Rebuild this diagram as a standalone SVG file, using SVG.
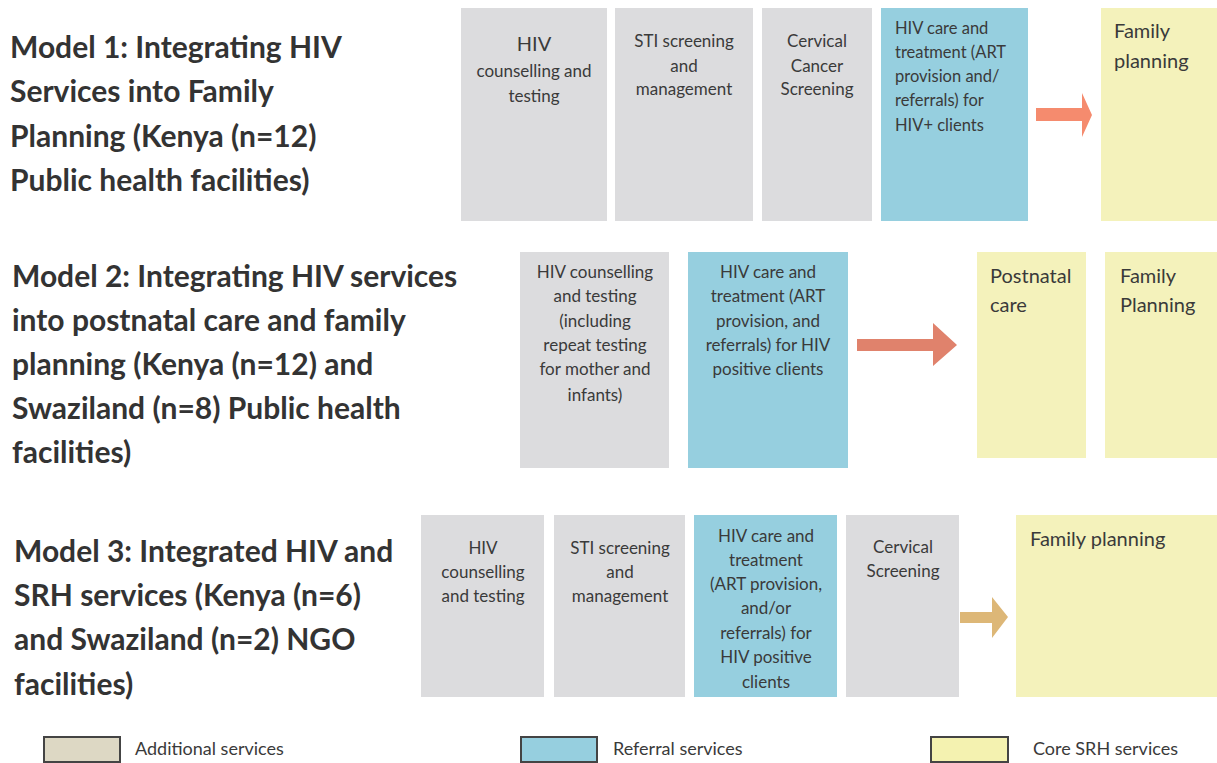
<svg xmlns="http://www.w3.org/2000/svg" width="1217" height="763" viewBox="0 0 1217 763">
<style>
.bg{fill:#ffffff}
.add{fill:#dcdcde}
.ref{fill:#96cfdf}
.core{fill:#f4f2bb}
.t{font-family:Lato,"Open Sans","Liberation Sans",sans-serif;fill:#3a3a3a}
.h{font-size:30px;font-weight:bold;fill:#333333}
.b{font-size:16.5px}
.bc{font-size:17px;text-anchor:middle}
.y{font-size:20px}
.lg{font-size:18px}
.lbox{stroke:#444;stroke-width:2}
</style>
<rect class="bg" x="0" y="0" width="1217" height="763"/>

<g id="model1-label" class="t h">
<text x="10" y="58">Model 1: Integrating HIV</text>
<text x="10" y="102">Services into Family</text>
<text x="10" y="147">Planning (Kenya (n=12)</text>
<text x="10" y="191">Public health facilities)</text>
</g>
<g id="m1-hct">
<rect class="add" x="461" y="8" width="146" height="213"/>
<text class="t" x="534" y="51" font-size="20" text-anchor="middle">HIV</text>
<text class="t bc" x="534" y="77">counselling and</text>
<text class="t bc" x="534" y="102">testing</text>
</g>
<g id="m1-sti">
<rect class="add" x="615" y="8" width="138" height="213"/>
<text class="t bc" x="684" y="47">STI screening</text>
<text class="t bc" x="684" y="72">and</text>
<text class="t bc" x="684" y="95">management</text>
</g>
<g id="m1-cc">
<rect class="add" x="762" y="8" width="110" height="213"/>
<text class="t bc" x="817" y="47">Cervical</text>
<text class="t bc" x="817" y="72">Cancer</text>
<text class="t bc" x="817" y="95">Screening</text>
</g>
<g id="m1-art">
<rect class="ref" x="881" y="8" width="147" height="213"/>
<text class="t b" x="895" y="34">HIV care and</text>
<text class="t b" x="895" y="58">treatment (ART</text>
<text class="t b" x="895" y="82">provision and/</text>
<text class="t b" x="895" y="106">referrals) for</text>
<text class="t b" x="895" y="131">HIV+ clients</text>
</g>
<g id="m1-fp">
<rect class="core" x="1101" y="8" width="116" height="213"/>
<text class="t y" x="1114" y="38">Family</text>
<text class="t y" x="1114" y="68">planning</text>
</g>

<g id="model2-label" class="t h">
<text x="12" y="287">Model 2: Integrating HIV services</text>
<text x="12" y="331">into postnatal care and family</text>
<text x="12" y="375">planning (Kenya (n=12) and</text>
<text x="12" y="419">Swaziland (n=8) Public health</text>
<text x="12" y="463">facilities)</text>
</g>
<g id="m2-hct">
<rect class="add" x="520" y="252" width="149" height="216"/>
<text class="t bc" x="595" y="278">HIV counselling</text>
<text class="t bc" x="595" y="302">and testing</text>
<text class="t bc" x="595" y="327">(including</text>
<text class="t bc" x="595" y="351">repeat testing</text>
<text class="t bc" x="595" y="375">for mother and</text>
<text class="t bc" x="595" y="401">infants)</text>
</g>
<g id="m2-art">
<rect class="ref" x="688" y="252" width="160" height="216"/>
<text class="t bc" x="768" y="278">HIV care and</text>
<text class="t bc" x="768" y="302">treatment (ART</text>
<text class="t bc" x="768" y="327">provision, and</text>
<text class="t bc" x="768" y="351">referrals) for HIV</text>
<text class="t bc" x="768" y="375">positive clients</text>
</g>
<g id="m2-pnc">
<rect class="core" x="977" y="252" width="109" height="206"/>
<text class="t y" x="990" y="283">Postnatal</text>
<text class="t y" x="990" y="312">care</text>
</g>
<g id="m2-fp">
<rect class="core" x="1105" y="252" width="112" height="206"/>
<text class="t y" x="1120" y="283">Family</text>
<text class="t y" x="1120" y="312">Planning</text>
</g>

<g id="model3-label" class="t h">
<text x="14" y="562">Model 3: Integrated HIV and</text>
<text x="14" y="606">SRH services (Kenya (n=6)</text>
<text x="14" y="650">and Swaziland (n=2) NGO</text>
<text x="14" y="695">facilities)</text>
</g>
<g id="m3-hct">
<rect class="add" x="421" y="515" width="123" height="182"/>
<text class="t bc" x="483" y="554">HIV</text>
<text class="t bc" x="483" y="578">counselling</text>
<text class="t bc" x="483" y="602">and testing</text>
</g>
<g id="m3-sti">
<rect class="add" x="554" y="515" width="131" height="182"/>
<text class="t bc" x="620" y="554">STI screening</text>
<text class="t bc" x="620" y="578">and</text>
<text class="t bc" x="620" y="602">management</text>
</g>
<g id="m3-art">
<rect class="ref" x="694" y="515" width="143" height="182"/>
<text class="t bc" x="766" y="542">HIV care and</text>
<text class="t bc" x="766" y="566">treatment</text>
<text class="t bc" x="766" y="590">(ART provision,</text>
<text class="t bc" x="766" y="614">and/or</text>
<text class="t bc" x="766" y="639">referrals) for</text>
<text class="t bc" x="766" y="663">HIV positive</text>
<text class="t bc" x="766" y="688">clients</text>
</g>
<g id="m3-cs">
<rect class="add" x="846" y="515" width="113" height="182"/>
<text class="t bc" x="903" y="553">Cervical</text>
<text class="t bc" x="903" y="577">Screening</text>
</g>
<g id="m3-fp">
<rect class="core" x="1016" y="515" width="201" height="182"/>
<text class="t y" x="1030" y="546">Family planning</text>
</g>

<g id="connectors">
<polygon fill="#f58b6e" points="1036,108 1082,108 1082,93 1092,115 1082,137 1082,121 1036,121"/>
<polygon fill="#e0826c" points="857,339 933,339 933,323 957,345 933,366 933,351 857,351"/>
<polygon fill="#ddb777" points="960,612 992,612 992,597 1008,617 992,638 992,623 960,623"/>
</g>

<g id="legend">
<rect class="lbox" x="44" y="737" width="76" height="25" fill="#ddd8c4"/>
<text class="t lg" x="135" y="755">Additional services</text>
<rect class="lbox" x="521" y="737" width="76" height="25" fill="#96cfdf"/>
<text class="t lg" x="613" y="755">Referral services</text>
<rect class="lbox" x="931" y="737" width="77" height="25" fill="#f4f2b0"/>
<text class="t lg" x="1033" y="755">Core SRH services</text>
</g>
</svg>
